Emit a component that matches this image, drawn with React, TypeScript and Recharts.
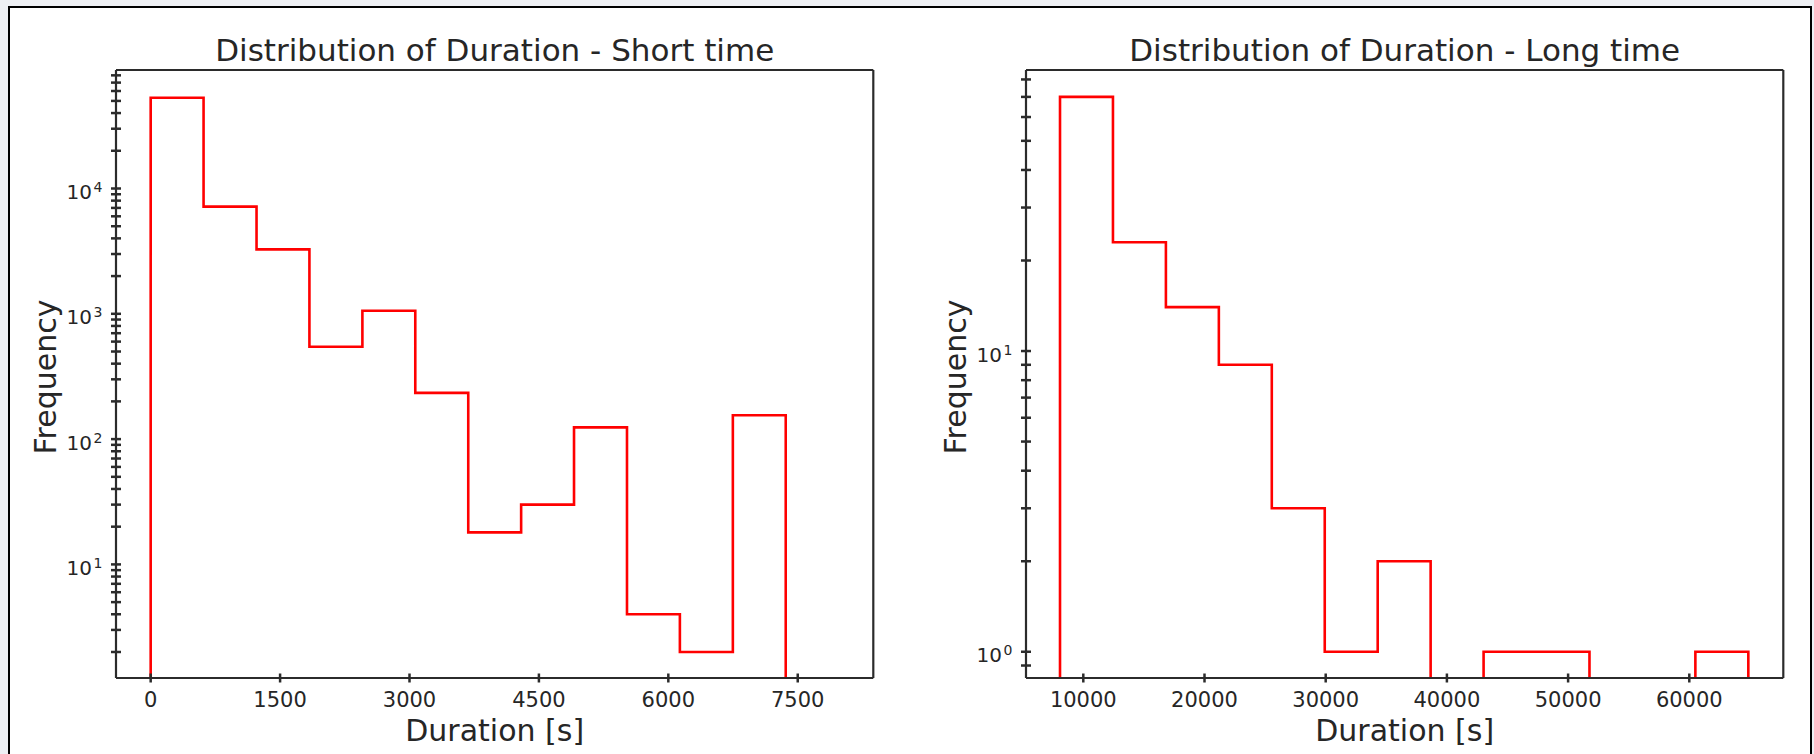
import React from 'react';
import { LineChart, Line, XAxis, YAxis } from 'recharts';

// ─── data ───────────────────────────────────────────────────
const shortEdges = [0, 613, 1227, 1840, 2454, 3067, 3681, 4294, 4907, 5521, 6134, 6748, 7361];
const shortCounts = [53000, 7170, 3270, 546, 1058, 234, 18, 30, 124, 4, 2, 155];
const shortXTicks = [0, 1500, 3000, 4500, 6000, 7500];
const shortXDomain = [-402, 8376];
const shortYDomain = [1.24, 88250];
const shortYMajor = [10, 100, 1000, 10000];

const longEdges = [8078, 12447, 16815, 21184, 25552, 29921, 34290, 38658, 43027, 47395, 51764, 56132, 60501, 64870];
const longCounts = [70, 23, 14, 9, 3, 1, 2, 0, 1, 1, 0, 0, 1];
const longXTicks = [10000, 20000, 30000, 40000, 50000, 60000];
const longXDomain = [5272, 67756];
const longYDomain = [0.818, 86];
const longYMajor = [1, 10];

const FONT = '"DejaVu Sans", Verdana, sans-serif';
const INK = '#262626';
const SPINE = '#2b2b2b';
const RED = '#ff0000';

// step outline of a histogram, broken where a bin is empty
function outline(edges: number[], counts: number[], floor: number) {
  const pts: { x: number; y: number | null }[] = [];
  let prev = floor;
  counts.forEach((c, i) => {
    const x0 = edges[i];
    const x1 = edges[i + 1];
    if (c <= 0) {
      if (prev !== floor) pts.push({ x: x0, y: prev }, { x: x0, y: floor });
      pts.push({ x: (x0 + x1) / 2, y: null });
      prev = floor;
    } else {
      pts.push({ x: x0, y: prev }, { x: x0, y: c }, { x: x1, y: c });
      prev = c;
    }
  });
  const last = edges[edges.length - 1];
  if (prev !== floor) pts.push({ x: last, y: prev }, { x: last, y: floor });
  return pts;
}

// log locator: decades plus 2..9 subs inside the domain
function logTicks(domain: number[]) {
  const out: number[] = [];
  const lo = Math.floor(Math.log10(domain[0]));
  const hi = Math.ceil(Math.log10(domain[1]));
  for (let d = lo; d <= hi; d++) {
    for (let k = 1; k <= 9; k++) {
      const v = +(k * Math.pow(10, d)).toPrecision(6);
      if (v >= domain[0] && v <= domain[1]) out.push(v);
    }
  }
  return out;
}

const XTick = ({ x, y, payload }: any) => (
  <g>
    <line x1={x} x2={x} y1={y - 4.5} y2={y + 4.5} stroke={SPINE} strokeWidth={2.5} />
    <text x={x} y={y + 29} textAnchor="middle" fontSize={21} fontFamily={FONT} fill={INK}>
      {payload.value}
    </text>
  </g>
);

const makeYTick = (major: number[]) => ({ x, y, payload }: any) => {
  const v = payload.value;
  const isMajor = major.some((m) => Math.abs(m - v) < 1e-9);
  return (
    <g>
      <line x1={x - 5} x2={x + 5} y1={y} y2={y} stroke={SPINE} strokeWidth={2.5} />
      {isMajor && (
        <>
          <text x={x - 24} y={y + 10.5} textAnchor="end" fontSize={20} fontFamily={FONT} fill={INK}>
            10
          </text>
          <text x={x - 22.5} y={y + 3.5} textAnchor="start" fontSize={14} fontFamily={FONT} fill={INK}>
            {Math.round(Math.log10(v))}
          </text>
        </>
      )}
    </g>
  );
};

interface PanelProps {
  edges: number[];
  counts: number[];
  xTicks: number[];
  xDomain: number[];
  yDomain: number[];
  yMajor: number[];
  left: number;
  plotLeft: number;
  plotRight: number;
}

const PLOT_TOP = 70;
const PLOT_BOTTOM = 76;

function Panel({ edges, counts, xTicks, xDomain, yDomain, yMajor, left, plotLeft, plotRight }: PanelProps) {
  const data = outline(edges, counts, yDomain[0]);
  const YTick = makeYTick(yMajor);
  return (
    <div style={{ position: 'absolute', left, top: 0 }}>
      <LineChart width={907} height={754} data={data} margin={{ top: 0, right: 0, bottom: 0, left: 0 }}>
        <XAxis
          dataKey="x"
          type="number"
          domain={xDomain}
          allowDataOverflow
          ticks={xTicks}
          interval={0}
          height={PLOT_BOTTOM}
          tickSize={0}
          tickMargin={0}
          tickLine={false}
          tick={(p: any) => <XTick {...p} />}
          axisLine={{ stroke: SPINE, strokeWidth: 2.2 }}
        />
        <XAxis
          xAxisId="top"
          dataKey="x"
          orientation="top"
          type="number"
          domain={xDomain}
          allowDataOverflow
          height={PLOT_TOP}
          tick={false}
          tickLine={false}
          axisLine={{ stroke: SPINE, strokeWidth: 2.2 }}
        />
        <YAxis
          type="number"
          scale="log"
          domain={yDomain}
          allowDataOverflow
          ticks={logTicks(yDomain)}
          interval={0}
          width={plotLeft}
          tickSize={0}
          tickMargin={0}
          tickLine={false}
          tick={(p: any) => <YTick {...p} />}
          axisLine={{ stroke: SPINE, strokeWidth: 2.2 }}
        />
        <YAxis
          yAxisId="right"
          orientation="right"
          type="number"
          scale="log"
          domain={yDomain}
          allowDataOverflow
          width={plotRight}
          tick={false}
          tickLine={false}
          axisLine={{ stroke: SPINE, strokeWidth: 2.2 }}
        />
        <Line
          type="linear"
          dataKey="y"
          stroke={RED}
          strokeWidth={2.6}
          dot={false}
          activeDot={false}
          connectNulls={false}
          isAnimationActive={false}
        />
      </LineChart>
    </div>
  );
}

export default function App() {
  const txt = { fontFamily: FONT, fill: INK };
  return (
    <div
      style={{
        position: 'absolute',
        left: 0,
        top: 0,
        width: 1814,
        height: 754,
        overflow: 'hidden',
        background: '#eef0f4',
      }}
    >
      <div
        style={{
          position: 'absolute',
          left: 8,
          top: 6,
          width: 1803.5,
          height: 760,
          boxSizing: 'border-box',
          borderTop: '2.5px solid #000',
          borderLeft: '2.5px solid #000',
          borderRight: '2.5px solid #000',
          background: '#fff',
        }}
      />
      <Panel
        edges={shortEdges}
        counts={shortCounts}
        xTicks={shortXTicks}
        xDomain={shortXDomain}
        yDomain={shortYDomain}
        yMajor={shortYMajor}
        left={0}
        plotLeft={116}
        plotRight={33.7}
      />
      <Panel
        edges={longEdges}
        counts={longCounts}
        xTicks={longXTicks}
        xDomain={longXDomain}
        yDomain={longYDomain}
        yMajor={longYMajor}
        left={907}
        plotLeft={119}
        plotRight={30.7}
      />
      <svg
        width={1814}
        height={754}
        style={{ position: 'absolute', left: 0, top: 0, pointerEvents: 'none' }}
      >
        <text x={494.7} y={61} textAnchor="middle" fontSize={31} {...txt}>
          Distribution of Duration - Short time
        </text>
        <text x={1404.7} y={61} textAnchor="middle" fontSize={31} {...txt}>
          Distribution of Duration - Long time
        </text>
        <text x={494.7} y={741} textAnchor="middle" fontSize={30} {...txt}>
          Duration [s]
        </text>
        <text x={1404.7} y={741} textAnchor="middle" fontSize={30} {...txt}>
          Duration [s]
        </text>
        <text x={55.5} y={377} textAnchor="middle" fontSize={30} transform="rotate(-90 55.5 377)" {...txt}>
          Frequency
        </text>
        <text x={965.5} y={377} textAnchor="middle" fontSize={30} transform="rotate(-90 965.5 377)" {...txt}>
          Frequency
        </text>
      </svg>
    </div>
  );
}
